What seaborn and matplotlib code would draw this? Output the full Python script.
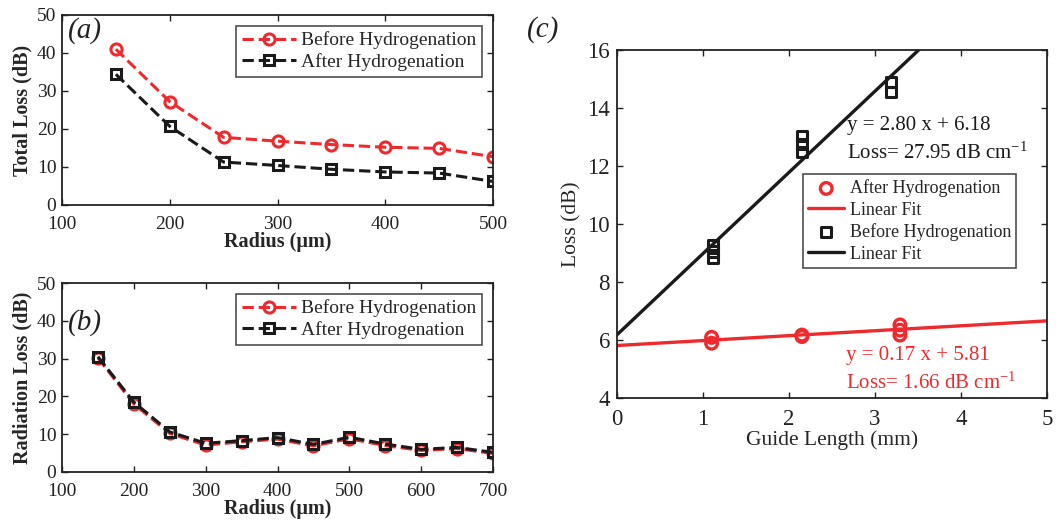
import numpy as np
import pandas as pd
import matplotlib
matplotlib.use("Agg")
import matplotlib.pyplot as plt
import seaborn as sns

# ---------------- data ----------------
radius_a = [150, 200, 250, 300, 350, 400, 450, 500]
total_before = [41.0, 27.2, 17.8, 16.8, 15.9, 15.2, 14.9, 12.7]
total_after = [34.4, 20.7, 11.3, 10.4, 9.4, 8.7, 8.4, 6.2]

radius_b = [150, 200, 250, 300, 350, 400, 450, 500, 550, 600, 650, 700]
rad_before = [30.2, 18.0, 10.2, 7.1, 8.0, 8.7, 6.9, 8.8, 7.0, 5.7, 6.2, 4.9]
rad_after = [30.5, 18.5, 10.6, 7.6, 8.3, 9.1, 7.3, 9.2, 7.4, 6.0, 6.5, 5.2]

len_red = [1.10, 1.10, 2.15, 2.15, 3.29, 3.29, 3.29]
loss_red = [6.09, 5.89, 6.17, 6.12, 6.52, 6.34, 6.17]
len_black = [1.12, 1.12, 1.12, 2.15, 2.15, 2.15, 3.19, 3.19]
loss_black = [9.28, 9.05, 8.82, 13.03, 12.76, 12.49, 14.90, 14.56]

fit_red = (0.17, 5.81)
fit_black = (2.80, 6.18)
fit_x = [0, 5]

RED = "#ee2a2e"
BLACK = "#1a1a1a"

sns.set_theme(style="ticks")
plt.rcParams["font.family"] = ["Liberation Serif", "DejaVu Serif"]
plt.rcParams["mathtext.fontset"] = "custom"
plt.rcParams["mathtext.rm"] = "Liberation Serif"
plt.rcParams["mathtext.it"] = "Liberation Serif:italic"
plt.rcParams["axes.linewidth"] = 1.3
plt.rcParams["axes.edgecolor"] = "#222222"

fig = plt.figure(figsize=(10.56, 5.25), dpi=100)
ax_a = fig.add_axes([62 / 1056, 1 - 205 / 525, 431 / 1056, 190 / 525])
ax_b = fig.add_axes([62 / 1056, 1 - 472 / 525, 431 / 1056, 189 / 525])
ax_c = fig.add_axes([617 / 1056, 1 - 398 / 525, 430 / 1056, 348 / 525])

TICK_FS = 14
LAB_FS = 14.5


def style_axes(ax, xpad=8, ypad=4):
    ax.tick_params(direction="in", top=True, right=True, length=4, width=1,
                   labelsize=TICK_FS, colors="#222222")
    ax.tick_params(axis="x", pad=xpad)
    ax.tick_params(axis="y", pad=ypad)
    for s in ax.spines.values():
        s.set_visible(True)
        s.set_color("#222222")


def dashed_series(ax, x, y, color, marker, label, ms, mew):
    sns.lineplot(x=x, y=y, ax=ax, color=color, linestyle="--", dashes=(3, 2.2),
                 linewidth=2.2, marker=marker, markersize=ms,
                 markerfacecolor="none", markeredgecolor=color,
                 markeredgewidth=mew, label=label)


# ---------------- (a) ----------------
dashed_series(ax_a, radius_a, total_before, RED, "o", "Before Hydrogenation", 8, 2.2)
dashed_series(ax_a, radius_a, total_after, BLACK, "s", "After Hydrogenation", 7, 2.2)
ax_a.set_xlim(100, 500)
ax_a.set_ylim(0, 50)
ax_a.set_xticks([100, 200, 300, 400, 500])
ax_a.set_yticks([0, 10, 20, 30, 40, 50])
ax_a.set_xlabel("Radius (μm)", fontsize=LAB_FS, fontweight="bold", labelpad=-1)
ax_a.set_ylabel("Total Loss (dB)", fontsize=LAB_FS, fontweight="bold", labelpad=3)
style_axes(ax_a)
ax_a.text(0.015, 0.99, "(a)", transform=ax_a.transAxes, fontsize=21,
          style="italic", va="top", ha="left", color="#222222")

# ---------------- (b) ----------------
dashed_series(ax_b, radius_b, rad_before, RED, "o", "Before Hydrogenation", 8, 2.2)
dashed_series(ax_b, radius_b, rad_after, BLACK, "s", "After Hydrogenation", 7, 2.2)
ax_b.set_xlim(100, 700)
ax_b.set_ylim(0, 50)
ax_b.set_xticks([100, 200, 300, 400, 500, 600, 700])
ax_b.set_yticks([0, 10, 20, 30, 40, 50])
ax_b.set_xlabel("Radius (μm)", fontsize=LAB_FS, fontweight="bold", labelpad=-1)
ax_b.set_ylabel("Radiation Loss (dB)", fontsize=LAB_FS, fontweight="bold", labelpad=3)
style_axes(ax_b)
ax_b.text(0.015, 0.86, "(b)", transform=ax_b.transAxes, fontsize=21,
          style="italic", va="top", ha="left", color="#222222")

for ax in (ax_a, ax_b):
    leg = ax.legend(loc="upper right", fontsize=14, frameon=True, fancybox=False,
                    handlelength=2.8, handletextpad=0.25, borderpad=0.3,
                    labelspacing=0.2, borderaxespad=0.55)
    leg.get_frame().set_edgecolor("#222222")
    leg.get_frame().set_linewidth(1.2)

# ---------------- (c) ----------------
sns.scatterplot(x=len_red, y=loss_red, ax=ax_c, marker="o", s=70,
                facecolor="none", edgecolor=RED, linewidth=2.4,
                label="After Hydrogenation", zorder=3)
fy_red = [fit_red[0] * v + fit_red[1] for v in fit_x]
sns.lineplot(x=fit_x, y=fy_red, ax=ax_c, color=RED, linewidth=2.4,
             label="Linear Fit")
sns.scatterplot(x=len_black, y=loss_black, ax=ax_c, marker="s", s=55,
                facecolor="none", edgecolor=BLACK, linewidth=2.2,
                label="Before Hydrogenation", zorder=3)
fy_black = [fit_black[0] * v + fit_black[1] for v in fit_x]
sns.lineplot(x=fit_x, y=fy_black, ax=ax_c, color=BLACK, linewidth=2.4,
             label="Linear Fit")
ax_c.set_xlim(0, 5)
ax_c.set_ylim(4, 16)
ax_c.set_xticks([0, 1, 2, 3, 4, 5])
ax_c.set_yticks([4, 6, 8, 10, 12, 14, 16])
ax_c.set_xlabel("Guide Length (mm)", fontsize=15.5, labelpad=0)
ax_c.set_ylabel("Loss (dB)", fontsize=15.5, labelpad=4)
style_axes(ax_c, xpad=8, ypad=5)
ax_c.tick_params(labelsize=16.5)

ax_c.text(2.68, 13.4, "y = 2.80 x + 6.18", fontsize=15, color=BLACK, va="center")
ax_c.text(2.68, 12.45, "Loss= 27.95 dB cm$^{-1}$", fontsize=15, color=BLACK, va="center")
ax_c.text(2.66, 5.45, "y = 0.17 x + 5.81", fontsize=15, color=RED, va="center")
ax_c.text(2.66, 4.5, "Loss= 1.66 dB cm$^{-1}$", fontsize=15, color=RED, va="center")

legc = ax_c.legend(loc="upper left", bbox_to_anchor=(0.432, 0.644), fontsize=13,
                   frameon=True, fancybox=False, handlelength=2.0,
                   handletextpad=0.3, borderpad=0.3, labelspacing=0.25,
                   borderaxespad=0)
legc.get_frame().set_edgecolor("#222222")
legc.get_frame().set_linewidth(1.2)

fig.text(527 / 1056, 1 - 30 / 525, "(c)", fontsize=21, style="italic",
         va="center", ha="left", color="#222222")

fig.savefig("out.png", dpi=100)
